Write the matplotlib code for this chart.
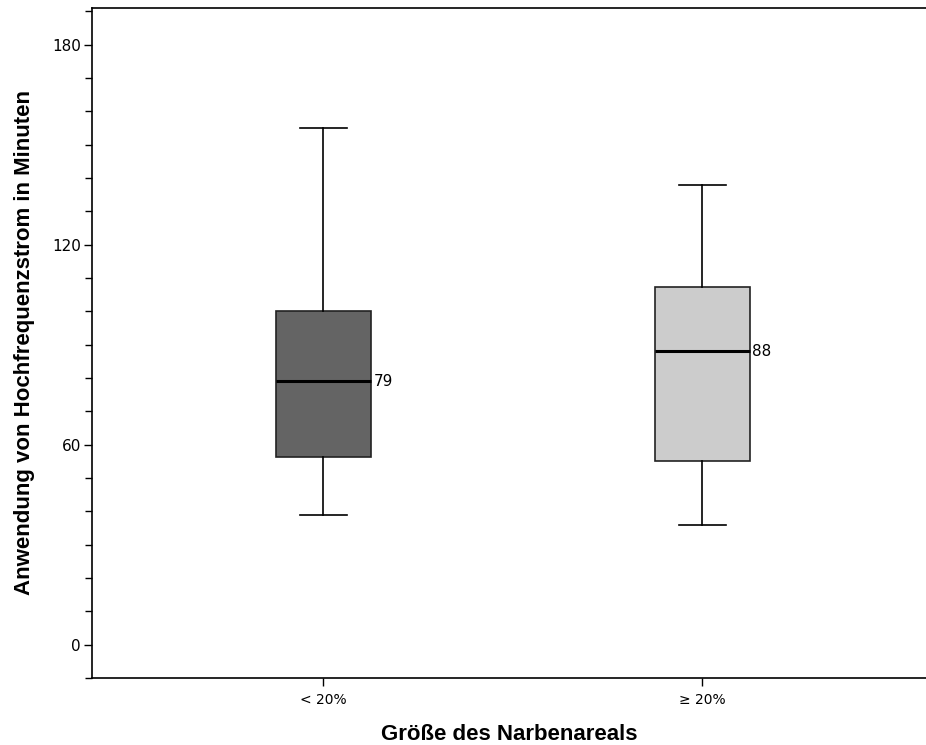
import matplotlib
matplotlib.use("Agg")
import matplotlib.pyplot as plt
from matplotlib.ticker import MultipleLocator

# Daten
groups = ['< 20%', '≥ 20%']
whislo = [39, 36]
q1 = [56.3, 55.1]
med = [79, 88]
q3 = [100, 107.4]
whishi = [155, 138]
colors = ['#646464', '#cccccc']

stats = []
for i in range(len(groups)):
    stats.append(dict(label=groups[i], whislo=whislo[i], q1=q1[i], med=med[i],
                      q3=q3[i], whishi=whishi[i], fliers=[]))

fig = plt.figure(figsize=(9.26, 7.45), dpi=100)
ax = fig.add_axes([0.0994, 0.0899, 0.9006, 0.8994])

bp = ax.bxp(stats, positions=[1, 2], widths=0.25, patch_artist=True,
            showfliers=False,
            boxprops=dict(edgecolor='#222222', linewidth=1.2),
            medianprops=dict(color='black', linewidth=2.2),
            whiskerprops=dict(color='black', linewidth=1.2),
            capprops=dict(color='black', linewidth=1.2),
            capwidths=0.125)
for patch, c in zip(bp['boxes'], colors):
    patch.set_facecolor(c)

# Medianwerte neben der Box
for i, m in enumerate(med):
    ax.text(i + 1 + 0.132, m, str(m), va='center', ha='left', fontsize=11,
            family='DejaVu Sans')

ax.set_xlim(0.39, 2.59)
ax.set_ylim(-10, 191)
ax.yaxis.set_major_locator(MultipleLocator(60))
ax.yaxis.set_minor_locator(MultipleLocator(10))
ax.tick_params(axis='y', which='major', length=6, width=1, labelsize=11, pad=2)
ax.tick_params(axis='y', which='minor', length=5, width=1)
ax.tick_params(axis='x', length=6, width=1, labelsize=10, pad=5)
ax.spines['right'].set_visible(False)
for s in ['left', 'bottom', 'top']:
    ax.spines[s].set_linewidth(1.2)

ax.set_xlabel('Größe des Narbenareals', fontsize=16, fontweight='bold',
              family='Liberation Sans', labelpad=12)
ax.set_ylabel('Anwendung von Hochfrequenzstrom in Minuten', fontsize=16,
              fontweight='bold', family='Liberation Sans', labelpad=12)

fig.savefig('out.png', dpi=100)
